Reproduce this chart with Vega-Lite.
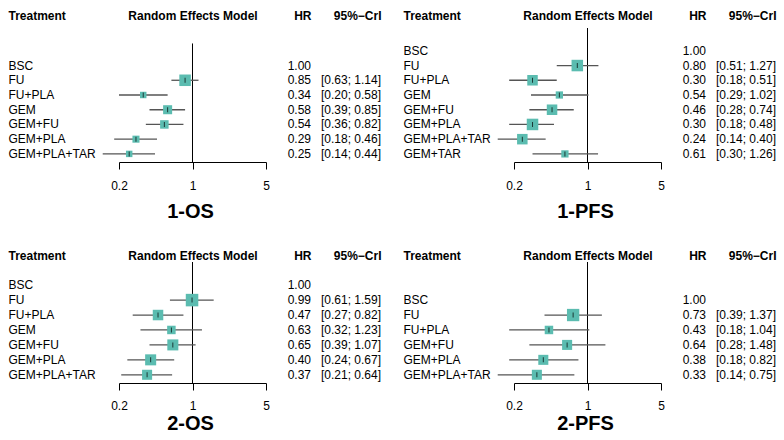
{
  "$schema": "https://vega.github.io/schema/vega-lite/v6.json",
  "padding": {"left": 8, "top": 9, "right": 0, "bottom": 0},
  "background": "white",
  "datasets": {
    "os1": [
      {"t": "BSC", "hr": 1.00, "lo": null, "hi": null, "w": null, "ci": null},
      {"t": "FU", "hr": 0.85, "lo": 0.63, "hi": 1.14, "w": 0.83, "ci": "[0.63; 1.14]"},
      {"t": "FU+PLA", "hr": 0.34, "lo": 0.20, "hi": 0.58, "w": 0.26, "ci": "[0.20; 0.58]"},
      {"t": "GEM", "hr": 0.58, "lo": 0.39, "hi": 0.85, "w": 0.51, "ci": "[0.39; 0.85]"},
      {"t": "GEM+FU", "hr": 0.54, "lo": 0.36, "hi": 0.82, "w": 0.45, "ci": "[0.36; 0.82]"},
      {"t": "GEM+PLA", "hr": 0.29, "lo": 0.18, "hi": 0.46, "w": 0.31, "ci": "[0.18; 0.46]"},
      {"t": "GEM+PLA+TAR", "hr": 0.25, "lo": 0.14, "hi": 0.44, "w": 0.26, "ci": "[0.14; 0.44]"}
    ],
    "pfs1": [
      {"t": "BSC", "hr": 1.00, "lo": null, "hi": null, "w": null, "ci": null},
      {"t": "FU", "hr": 0.80, "lo": 0.51, "hi": 1.27, "w": 0.83, "ci": "[0.51; 1.27]"},
      {"t": "FU+PLA", "hr": 0.30, "lo": 0.18, "hi": 0.51, "w": 0.69, "ci": "[0.18; 0.51]"},
      {"t": "GEM", "hr": 0.54, "lo": 0.29, "hi": 1.02, "w": 0.33, "ci": "[0.29; 1.02]"},
      {"t": "GEM+FU", "hr": 0.46, "lo": 0.28, "hi": 0.74, "w": 0.69, "ci": "[0.28; 0.74]"},
      {"t": "GEM+PLA", "hr": 0.30, "lo": 0.18, "hi": 0.48, "w": 0.83, "ci": "[0.18; 0.48]"},
      {"t": "GEM+PLA+TAR", "hr": 0.24, "lo": 0.14, "hi": 0.40, "w": 0.69, "ci": "[0.14; 0.40]"},
      {"t": "GEM+TAR", "hr": 0.61, "lo": 0.30, "hi": 1.26, "w": 0.33, "ci": "[0.30; 1.26]"}
    ],
    "os2": [
      {"t": "BSC", "hr": 1.00, "lo": null, "hi": null, "w": null, "ci": null},
      {"t": "FU", "hr": 0.99, "lo": 0.61, "hi": 1.59, "w": 0.98, "ci": "[0.61; 1.59]"},
      {"t": "FU+PLA", "hr": 0.47, "lo": 0.27, "hi": 0.82, "w": 0.69, "ci": "[0.27; 0.82]"},
      {"t": "GEM", "hr": 0.63, "lo": 0.32, "hi": 1.23, "w": 0.45, "ci": "[0.32; 1.23]"},
      {"t": "GEM+FU", "hr": 0.65, "lo": 0.39, "hi": 1.07, "w": 0.76, "ci": "[0.39; 1.07]"},
      {"t": "GEM+PLA", "hr": 0.40, "lo": 0.24, "hi": 0.67, "w": 0.76, "ci": "[0.24; 0.67]"},
      {"t": "GEM+PLA+TAR", "hr": 0.37, "lo": 0.21, "hi": 0.64, "w": 0.63, "ci": "[0.21; 0.64]"}
    ],
    "pfs2": [
      {"t": "BSC", "hr": 1.00, "lo": null, "hi": null, "w": null, "ci": null},
      {"t": "FU", "hr": 0.73, "lo": 0.39, "hi": 1.37, "w": 0.95, "ci": "[0.39; 1.37]"},
      {"t": "FU+PLA", "hr": 0.43, "lo": 0.18, "hi": 1.04, "w": 0.45, "ci": "[0.18; 1.04]"},
      {"t": "GEM+FU", "hr": 0.64, "lo": 0.28, "hi": 1.48, "w": 0.63, "ci": "[0.28; 1.48]"},
      {"t": "GEM+PLA", "hr": 0.38, "lo": 0.18, "hi": 0.82, "w": 0.63, "ci": "[0.18; 0.82]"},
      {"t": "GEM+PLA+TAR", "hr": 0.33, "lo": 0.14, "hi": 0.75, "w": 0.63, "ci": "[0.14; 0.75]"}
    ]
  },
  "columns": 4,
  "bounds": "flush",
  "spacing": {"row": 100, "column": 45},
  "concat": [
    {
      "width": 147, "height": 134,
      "data": {"name": "os1"},
      "resolve": {"axis": {"x": "independent"}},
      "layer": [
        {
          "data": {"values": [{"hr": 1, "t": "  "}]},
          "mark": {"type": "rule", "color": "black", "strokeWidth": 1},
          "encoding": {
            "x": {"field": "hr", "type": "quantitative", "scale": {"type": "log", "domain": [0.2, 5], "nice": false},
              "axis": {"orient": "top", "title": "Random Effects Model", "labels": false, "ticks": false, "domain": false, "titleX": 73.5, "titleY": -9, "titleAlign": "center", "titleBaseline": "alphabetic", "titleFontSize": 12, "titleFontWeight": "bold", "titleColor": "black"}},
            "y": {"field": "t", "type": "nominal", "bandPosition": 0,
              "scale": {"type": "band", "domain": [" ", "  ", "BSC", "FU", "FU+PLA", "GEM", "GEM+FU", "GEM+PLA", "GEM+PLA+TAR"], "paddingInner": 0, "paddingOuter": 0.05},
              "axis": {"orient": "left", "title": "Treatment", "titleAngle": 0, "titleAlign": "left", "titleBaseline": "alphabetic", "titleX": -111, "titleY": -9, "titleFontSize": 12, "titleFontWeight": "bold", "titleColor": "black", "domain": false, "ticks": false, "tickSize": 0, "labelAlign": "left", "labelBaseline": "middle", "labelPadding": 111, "labelFontSize": 12, "labelColor": "black"}},
            "y2": {"value": "height"}
          }
        },
        {
          "transform": [{"filter": "isValid(datum.lo)"}],
          "mark": {"type": "rule", "color": "#555555", "strokeWidth": 1.3},
          "encoding": {
            "x": {"field": "lo", "type": "quantitative", "scale": {"type": "log", "domain": [0.2, 5], "nice": false},
              "axis": {"orient": "bottom", "values": [0.2, 1, 5], "format": "~g", "tickSize": 7, "tickColor": "black", "domainColor": "black", "labelPadding": 20, "labelBaseline": "alphabetic", "labelFontSize": 12, "labelColor": "black", "labelFlush": false, "labelOverlap": false, "title": "1-OS", "titleFontSize": 20, "titleFontWeight": "bold", "titleColor": "black", "titleBaseline": "alphabetic", "titleX": 71, "titleY": 55, "titleAlign": "center"}},
            "x2": {"field": "hi"},
            "y": {"field": "t", "type": "nominal",
              "scale": {"type": "band", "domain": [" ", "  ", "BSC", "FU", "FU+PLA", "GEM", "GEM+FU", "GEM+PLA", "GEM+PLA+TAR"], "paddingInner": 0, "paddingOuter": 0.05},
              "axis": {"orient": "left", "title": "Treatment", "titleAngle": 0, "titleAlign": "left", "titleBaseline": "alphabetic", "titleX": -111, "titleY": -9, "titleFontSize": 12, "titleFontWeight": "bold", "titleColor": "black", "domain": false, "ticks": false, "tickSize": 0, "labelAlign": "left", "labelBaseline": "middle", "labelPadding": 111, "labelFontSize": 12, "labelColor": "black"}}
          }
        },
        {
          "transform": [{"filter": "isValid(datum.lo)"}],
          "mark": {"type": "point", "shape": "square", "filled": true, "color": "#5BBCB0", "opacity": 1},
          "encoding": {
            "x": {"field": "hr", "type": "quantitative", "scale": {"type": "log", "domain": [0.2, 5], "nice": false}, "axis": null},
            "y": {"field": "t", "type": "nominal",
              "scale": {"type": "band", "domain": [" ", "  ", "BSC", "FU", "FU+PLA", "GEM", "GEM+FU", "GEM+PLA", "GEM+PLA+TAR"], "paddingInner": 0, "paddingOuter": 0.05},
              "axis": {"orient": "left", "title": "Treatment", "titleAngle": 0, "titleAlign": "left", "titleBaseline": "alphabetic", "titleX": -111, "titleY": -9, "titleFontSize": 12, "titleFontWeight": "bold", "titleColor": "black", "domain": false, "ticks": false, "tickSize": 0, "labelAlign": "left", "labelBaseline": "middle", "labelPadding": 111, "labelFontSize": 12, "labelColor": "black"}},
            "size": {"field": "w", "type": "quantitative", "scale": {"domain": [0, 1], "range": [0, 160]}, "legend": null}
          }
        },
        {
          "transform": [{"filter": "isValid(datum.lo)"}],
          "mark": {"type": "tick", "orient": "vertical", "color": "black", "size": 5, "thickness": 1},
          "encoding": {
            "x": {"field": "hr", "type": "quantitative", "scale": {"type": "log", "domain": [0.2, 5], "nice": false}, "axis": null},
            "y": {"field": "t", "type": "nominal",
              "scale": {"type": "band", "domain": [" ", "  ", "BSC", "FU", "FU+PLA", "GEM", "GEM+FU", "GEM+PLA", "GEM+PLA+TAR"], "paddingInner": 0, "paddingOuter": 0.05},
              "axis": {"orient": "left", "title": "Treatment", "titleAngle": 0, "titleAlign": "left", "titleBaseline": "alphabetic", "titleX": -111, "titleY": -9, "titleFontSize": 12, "titleFontWeight": "bold", "titleColor": "black", "domain": false, "ticks": false, "tickSize": 0, "labelAlign": "left", "labelBaseline": "middle", "labelPadding": 111, "labelFontSize": 12, "labelColor": "black"}}
          }
        }
      ]
    },
    {
      "width": 158, "height": 134,
      "data": {"name": "os1"},
      "layer": [
        {
          "mark": {"type": "text", "align": "right", "baseline": "middle", "fontSize": 12, "color": "black"},
          "encoding": {
            "x": {"datum": "HR", "type": "nominal", "scale": {"type": "point", "domain": ["HR", "95%−CrI"], "range": [0, 70], "padding": 0},
              "axis": {"orient": "top", "title": null, "domain": false, "ticks": false, "tickSize": 0, "labelPadding": 9, "labelBaseline": "alphabetic", "labelAlign": "right", "labelAngle": 0, "labelFontWeight": "bold", "labelFontSize": 12, "labelColor": "black"}},
            "y": {"field": "t", "type": "nominal", "scale": {"type": "band", "domain": [" ", "  ", "BSC", "FU", "FU+PLA", "GEM", "GEM+FU", "GEM+PLA", "GEM+PLA+TAR"], "paddingInner": 0, "paddingOuter": 0.05}, "axis": null},
            "text": {"field": "hr", "type": "quantitative", "format": ".2f"}
          }
        },
        {
          "transform": [{"filter": "isValid(datum.ci)"}],
          "mark": {"type": "text", "align": "right", "baseline": "middle", "fontSize": 12, "color": "black"},
          "encoding": {
            "x": {"datum": "95%−CrI", "type": "nominal", "scale": {"type": "point", "domain": ["HR", "95%−CrI"], "range": [0, 70], "padding": 0},
              "axis": {"orient": "top", "title": null, "domain": false, "ticks": false, "tickSize": 0, "labelPadding": 9, "labelBaseline": "alphabetic", "labelAlign": "right", "labelAngle": 0, "labelFontWeight": "bold", "labelFontSize": 12, "labelColor": "black"}},
            "y": {"field": "t", "type": "nominal", "scale": {"type": "band", "domain": [" ", "  ", "BSC", "FU", "FU+PLA", "GEM", "GEM+FU", "GEM+PLA", "GEM+PLA+TAR"], "paddingInner": 0, "paddingOuter": 0.05}, "axis": null},
            "text": {"field": "ci", "type": "nominal"}
          }
        }
      ]
    },
    {
      "width": 147, "height": 134,
      "data": {"name": "pfs1"},
      "resolve": {"axis": {"x": "independent"}},
      "layer": [
        {
          "data": {"values": [{"hr": 1}]},
          "mark": {"type": "rule", "color": "black", "strokeWidth": 1},
          "encoding": {
            "x": {"field": "hr", "type": "quantitative", "scale": {"type": "log", "domain": [0.2, 5], "nice": false},
              "axis": {"orient": "top", "title": "Random Effects Model", "labels": false, "ticks": false, "domain": false, "titleX": 73.5, "titleY": -9, "titleAlign": "center", "titleBaseline": "alphabetic", "titleFontSize": 12, "titleFontWeight": "bold", "titleColor": "black"}}
          }
        },
        {
          "transform": [{"filter": "isValid(datum.lo)"}],
          "mark": {"type": "rule", "color": "#555555", "strokeWidth": 1.3},
          "encoding": {
            "x": {"field": "lo", "type": "quantitative", "scale": {"type": "log", "domain": [0.2, 5], "nice": false},
              "axis": {"orient": "bottom", "values": [0.2, 1, 5], "format": "~g", "tickSize": 7, "tickColor": "black", "domainColor": "black", "labelPadding": 20, "labelBaseline": "alphabetic", "labelFontSize": 12, "labelColor": "black", "labelFlush": false, "labelOverlap": false, "title": "1-PFS", "titleFontSize": 20, "titleFontWeight": "bold", "titleColor": "black", "titleBaseline": "alphabetic", "titleX": 71, "titleY": 55, "titleAlign": "center"}},
            "x2": {"field": "hi"},
            "y": {"field": "t", "type": "nominal",
              "scale": {"type": "band", "domain": [" ", "BSC", "FU", "FU+PLA", "GEM", "GEM+FU", "GEM+PLA", "GEM+PLA+TAR", "GEM+TAR"], "paddingInner": 0, "paddingOuter": 0.05},
              "axis": {"orient": "left", "title": "Treatment", "titleAngle": 0, "titleAlign": "left", "titleBaseline": "alphabetic", "titleX": -111, "titleY": -9, "titleFontSize": 12, "titleFontWeight": "bold", "titleColor": "black", "domain": false, "ticks": false, "tickSize": 0, "labelAlign": "left", "labelBaseline": "middle", "labelPadding": 111, "labelFontSize": 12, "labelColor": "black"}}
          }
        },
        {
          "transform": [{"filter": "isValid(datum.lo)"}],
          "mark": {"type": "point", "shape": "square", "filled": true, "color": "#5BBCB0", "opacity": 1},
          "encoding": {
            "x": {"field": "hr", "type": "quantitative", "scale": {"type": "log", "domain": [0.2, 5], "nice": false}, "axis": null},
            "y": {"field": "t", "type": "nominal",
              "scale": {"type": "band", "domain": [" ", "BSC", "FU", "FU+PLA", "GEM", "GEM+FU", "GEM+PLA", "GEM+PLA+TAR", "GEM+TAR"], "paddingInner": 0, "paddingOuter": 0.05},
              "axis": {"orient": "left", "title": "Treatment", "titleAngle": 0, "titleAlign": "left", "titleBaseline": "alphabetic", "titleX": -111, "titleY": -9, "titleFontSize": 12, "titleFontWeight": "bold", "titleColor": "black", "domain": false, "ticks": false, "tickSize": 0, "labelAlign": "left", "labelBaseline": "middle", "labelPadding": 111, "labelFontSize": 12, "labelColor": "black"}},
            "size": {"field": "w", "type": "quantitative", "scale": {"domain": [0, 1], "range": [0, 160]}, "legend": null}
          }
        },
        {
          "transform": [{"filter": "isValid(datum.lo)"}],
          "mark": {"type": "tick", "orient": "vertical", "color": "black", "size": 5, "thickness": 1},
          "encoding": {
            "x": {"field": "hr", "type": "quantitative", "scale": {"type": "log", "domain": [0.2, 5], "nice": false}, "axis": null},
            "y": {"field": "t", "type": "nominal",
              "scale": {"type": "band", "domain": [" ", "BSC", "FU", "FU+PLA", "GEM", "GEM+FU", "GEM+PLA", "GEM+PLA+TAR", "GEM+TAR"], "paddingInner": 0, "paddingOuter": 0.05},
              "axis": {"orient": "left", "title": "Treatment", "titleAngle": 0, "titleAlign": "left", "titleBaseline": "alphabetic", "titleX": -111, "titleY": -9, "titleFontSize": 12, "titleFontWeight": "bold", "titleColor": "black", "domain": false, "ticks": false, "tickSize": 0, "labelAlign": "left", "labelBaseline": "middle", "labelPadding": 111, "labelFontSize": 12, "labelColor": "black"}}
          }
        }
      ]
    },
    {
      "width": 158, "height": 134,
      "data": {"name": "pfs1"},
      "layer": [
        {
          "mark": {"type": "text", "align": "right", "baseline": "middle", "fontSize": 12, "color": "black"},
          "encoding": {
            "x": {"datum": "HR", "type": "nominal", "scale": {"type": "point", "domain": ["HR", "95%−CrI"], "range": [0, 70], "padding": 0},
              "axis": {"orient": "top", "title": null, "domain": false, "ticks": false, "tickSize": 0, "labelPadding": 9, "labelBaseline": "alphabetic", "labelAlign": "right", "labelAngle": 0, "labelFontWeight": "bold", "labelFontSize": 12, "labelColor": "black"}},
            "y": {"field": "t", "type": "nominal", "scale": {"type": "band", "domain": [" ", "BSC", "FU", "FU+PLA", "GEM", "GEM+FU", "GEM+PLA", "GEM+PLA+TAR", "GEM+TAR"], "paddingInner": 0, "paddingOuter": 0.05}, "axis": null},
            "text": {"field": "hr", "type": "quantitative", "format": ".2f"}
          }
        },
        {
          "transform": [{"filter": "isValid(datum.ci)"}],
          "mark": {"type": "text", "align": "right", "baseline": "middle", "fontSize": 12, "color": "black"},
          "encoding": {
            "x": {"datum": "95%−CrI", "type": "nominal", "scale": {"type": "point", "domain": ["HR", "95%−CrI"], "range": [0, 70], "padding": 0},
              "axis": {"orient": "top", "title": null, "domain": false, "ticks": false, "tickSize": 0, "labelPadding": 9, "labelBaseline": "alphabetic", "labelAlign": "right", "labelAngle": 0, "labelFontWeight": "bold", "labelFontSize": 12, "labelColor": "black"}},
            "y": {"field": "t", "type": "nominal", "scale": {"type": "band", "domain": [" ", "BSC", "FU", "FU+PLA", "GEM", "GEM+FU", "GEM+PLA", "GEM+PLA+TAR", "GEM+TAR"], "paddingInner": 0, "paddingOuter": 0.05}, "axis": null},
            "text": {"field": "ci", "type": "nominal"}
          }
        }
      ]
    },
    {
      "width": 147, "height": 121,
      "data": {"name": "os2"},
      "resolve": {"axis": {"x": "independent"}},
      "layer": [
        {
          "data": {"values": [{"hr": 1}]},
          "mark": {"type": "rule", "color": "black", "strokeWidth": 1},
          "encoding": {
            "x": {"field": "hr", "type": "quantitative", "scale": {"type": "log", "domain": [0.2, 5], "nice": false},
              "axis": {"orient": "top", "title": "Random Effects Model", "labels": false, "ticks": false, "domain": false, "titleX": 73.5, "titleY": -2.5, "titleAlign": "center", "titleBaseline": "alphabetic", "titleFontSize": 12, "titleFontWeight": "bold", "titleColor": "black"}}
          }
        },
        {
          "transform": [{"filter": "isValid(datum.lo)"}],
          "mark": {"type": "rule", "color": "#555555", "strokeWidth": 1.3},
          "encoding": {
            "x": {"field": "lo", "type": "quantitative", "scale": {"type": "log", "domain": [0.2, 5], "nice": false},
              "axis": {"orient": "bottom", "values": [0.2, 1, 5], "format": "~g", "tickSize": 7, "tickColor": "black", "domainColor": "black", "labelPadding": 19.3, "labelBaseline": "alphabetic", "labelFontSize": 12, "labelColor": "black", "labelFlush": false, "labelOverlap": false, "title": "2-OS", "titleFontSize": 20, "titleFontWeight": "bold", "titleColor": "black", "titleBaseline": "alphabetic", "titleX": 71, "titleY": 46, "titleAlign": "center"}},
            "x2": {"field": "hi"},
            "y": {"field": "t", "type": "nominal",
              "scale": {"type": "band", "domain": [" ", "BSC", "FU", "FU+PLA", "GEM", "GEM+FU", "GEM+PLA", "GEM+PLA+TAR"], "paddingInner": 0, "paddingOuter": 0.05},
              "axis": {"orient": "left", "title": "Treatment", "titleAngle": 0, "titleAlign": "left", "titleBaseline": "alphabetic", "titleX": -111, "titleY": -2.5, "titleFontSize": 12, "titleFontWeight": "bold", "titleColor": "black", "domain": false, "ticks": false, "tickSize": 0, "labelAlign": "left", "labelBaseline": "middle", "labelPadding": 111, "labelFontSize": 12, "labelColor": "black"}}
          }
        },
        {
          "transform": [{"filter": "isValid(datum.lo)"}],
          "mark": {"type": "point", "shape": "square", "filled": true, "color": "#5BBCB0", "opacity": 1},
          "encoding": {
            "x": {"field": "hr", "type": "quantitative", "scale": {"type": "log", "domain": [0.2, 5], "nice": false}, "axis": null},
            "y": {"field": "t", "type": "nominal",
              "scale": {"type": "band", "domain": [" ", "BSC", "FU", "FU+PLA", "GEM", "GEM+FU", "GEM+PLA", "GEM+PLA+TAR"], "paddingInner": 0, "paddingOuter": 0.05},
              "axis": {"orient": "left", "title": "Treatment", "titleAngle": 0, "titleAlign": "left", "titleBaseline": "alphabetic", "titleX": -111, "titleY": -2.5, "titleFontSize": 12, "titleFontWeight": "bold", "titleColor": "black", "domain": false, "ticks": false, "tickSize": 0, "labelAlign": "left", "labelBaseline": "middle", "labelPadding": 111, "labelFontSize": 12, "labelColor": "black"}},
            "size": {"field": "w", "type": "quantitative", "scale": {"domain": [0, 1], "range": [0, 160]}, "legend": null}
          }
        },
        {
          "transform": [{"filter": "isValid(datum.lo)"}],
          "mark": {"type": "tick", "orient": "vertical", "color": "black", "size": 5, "thickness": 1},
          "encoding": {
            "x": {"field": "hr", "type": "quantitative", "scale": {"type": "log", "domain": [0.2, 5], "nice": false}, "axis": null},
            "y": {"field": "t", "type": "nominal",
              "scale": {"type": "band", "domain": [" ", "BSC", "FU", "FU+PLA", "GEM", "GEM+FU", "GEM+PLA", "GEM+PLA+TAR"], "paddingInner": 0, "paddingOuter": 0.05},
              "axis": {"orient": "left", "title": "Treatment", "titleAngle": 0, "titleAlign": "left", "titleBaseline": "alphabetic", "titleX": -111, "titleY": -2.5, "titleFontSize": 12, "titleFontWeight": "bold", "titleColor": "black", "domain": false, "ticks": false, "tickSize": 0, "labelAlign": "left", "labelBaseline": "middle", "labelPadding": 111, "labelFontSize": 12, "labelColor": "black"}}
          }
        }
      ]
    },
    {
      "width": 158, "height": 121,
      "data": {"name": "os2"},
      "layer": [
        {
          "mark": {"type": "text", "align": "right", "baseline": "middle", "fontSize": 12, "color": "black"},
          "encoding": {
            "x": {"datum": "HR", "type": "nominal", "scale": {"type": "point", "domain": ["HR", "95%−CrI"], "range": [0, 70], "padding": 0},
              "axis": {"orient": "top", "title": null, "domain": false, "ticks": false, "tickSize": 0, "labelPadding": 2.5, "labelBaseline": "alphabetic", "labelAlign": "right", "labelAngle": 0, "labelFontWeight": "bold", "labelFontSize": 12, "labelColor": "black"}},
            "y": {"field": "t", "type": "nominal", "scale": {"type": "band", "domain": [" ", "BSC", "FU", "FU+PLA", "GEM", "GEM+FU", "GEM+PLA", "GEM+PLA+TAR"], "paddingInner": 0, "paddingOuter": 0.05}, "axis": null},
            "text": {"field": "hr", "type": "quantitative", "format": ".2f"}
          }
        },
        {
          "transform": [{"filter": "isValid(datum.ci)"}],
          "mark": {"type": "text", "align": "right", "baseline": "middle", "fontSize": 12, "color": "black"},
          "encoding": {
            "x": {"datum": "95%−CrI", "type": "nominal", "scale": {"type": "point", "domain": ["HR", "95%−CrI"], "range": [0, 70], "padding": 0},
              "axis": {"orient": "top", "title": null, "domain": false, "ticks": false, "tickSize": 0, "labelPadding": 2.5, "labelBaseline": "alphabetic", "labelAlign": "right", "labelAngle": 0, "labelFontWeight": "bold", "labelFontSize": 12, "labelColor": "black"}},
            "y": {"field": "t", "type": "nominal", "scale": {"type": "band", "domain": [" ", "BSC", "FU", "FU+PLA", "GEM", "GEM+FU", "GEM+PLA", "GEM+PLA+TAR"], "paddingInner": 0, "paddingOuter": 0.05}, "axis": null},
            "text": {"field": "ci", "type": "nominal"}
          }
        }
      ]
    },
    {
      "width": 147, "height": 121,
      "data": {"name": "pfs2"},
      "resolve": {"axis": {"x": "independent"}},
      "layer": [
        {
          "data": {"values": [{"hr": 1}]},
          "mark": {"type": "rule", "color": "black", "strokeWidth": 1},
          "encoding": {
            "x": {"field": "hr", "type": "quantitative", "scale": {"type": "log", "domain": [0.2, 5], "nice": false},
              "axis": {"orient": "top", "title": "Random Effects Model", "labels": false, "ticks": false, "domain": false, "titleX": 73.5, "titleY": -2.5, "titleAlign": "center", "titleBaseline": "alphabetic", "titleFontSize": 12, "titleFontWeight": "bold", "titleColor": "black"}}
          }
        },
        {
          "transform": [{"filter": "isValid(datum.lo)"}],
          "mark": {"type": "rule", "color": "#555555", "strokeWidth": 1.3},
          "encoding": {
            "x": {"field": "lo", "type": "quantitative", "scale": {"type": "log", "domain": [0.2, 5], "nice": false},
              "axis": {"orient": "bottom", "values": [0.2, 1, 5], "format": "~g", "tickSize": 7, "tickColor": "black", "domainColor": "black", "labelPadding": 19.3, "labelBaseline": "alphabetic", "labelFontSize": 12, "labelColor": "black", "labelFlush": false, "labelOverlap": false, "title": "2-PFS", "titleFontSize": 20, "titleFontWeight": "bold", "titleColor": "black", "titleBaseline": "alphabetic", "titleX": 71, "titleY": 46, "titleAlign": "center"}},
            "x2": {"field": "hi"},
            "y": {"field": "t", "type": "nominal",
              "scale": {"type": "band", "domain": [" ", "  ", "BSC", "FU", "FU+PLA", "GEM+FU", "GEM+PLA", "GEM+PLA+TAR"], "paddingInner": 0, "paddingOuter": 0.05},
              "axis": {"orient": "left", "title": "Treatment", "titleAngle": 0, "titleAlign": "left", "titleBaseline": "alphabetic", "titleX": -111, "titleY": -2.5, "titleFontSize": 12, "titleFontWeight": "bold", "titleColor": "black", "domain": false, "ticks": false, "tickSize": 0, "labelAlign": "left", "labelBaseline": "middle", "labelPadding": 111, "labelFontSize": 12, "labelColor": "black"}}
          }
        },
        {
          "transform": [{"filter": "isValid(datum.lo)"}],
          "mark": {"type": "point", "shape": "square", "filled": true, "color": "#5BBCB0", "opacity": 1},
          "encoding": {
            "x": {"field": "hr", "type": "quantitative", "scale": {"type": "log", "domain": [0.2, 5], "nice": false}, "axis": null},
            "y": {"field": "t", "type": "nominal",
              "scale": {"type": "band", "domain": [" ", "  ", "BSC", "FU", "FU+PLA", "GEM+FU", "GEM+PLA", "GEM+PLA+TAR"], "paddingInner": 0, "paddingOuter": 0.05},
              "axis": {"orient": "left", "title": "Treatment", "titleAngle": 0, "titleAlign": "left", "titleBaseline": "alphabetic", "titleX": -111, "titleY": -2.5, "titleFontSize": 12, "titleFontWeight": "bold", "titleColor": "black", "domain": false, "ticks": false, "tickSize": 0, "labelAlign": "left", "labelBaseline": "middle", "labelPadding": 111, "labelFontSize": 12, "labelColor": "black"}},
            "size": {"field": "w", "type": "quantitative", "scale": {"domain": [0, 1], "range": [0, 160]}, "legend": null}
          }
        },
        {
          "transform": [{"filter": "isValid(datum.lo)"}],
          "mark": {"type": "tick", "orient": "vertical", "color": "black", "size": 5, "thickness": 1},
          "encoding": {
            "x": {"field": "hr", "type": "quantitative", "scale": {"type": "log", "domain": [0.2, 5], "nice": false}, "axis": null},
            "y": {"field": "t", "type": "nominal",
              "scale": {"type": "band", "domain": [" ", "  ", "BSC", "FU", "FU+PLA", "GEM+FU", "GEM+PLA", "GEM+PLA+TAR"], "paddingInner": 0, "paddingOuter": 0.05},
              "axis": {"orient": "left", "title": "Treatment", "titleAngle": 0, "titleAlign": "left", "titleBaseline": "alphabetic", "titleX": -111, "titleY": -2.5, "titleFontSize": 12, "titleFontWeight": "bold", "titleColor": "black", "domain": false, "ticks": false, "tickSize": 0, "labelAlign": "left", "labelBaseline": "middle", "labelPadding": 111, "labelFontSize": 12, "labelColor": "black"}}
          }
        }
      ]
    },
    {
      "width": 158, "height": 121,
      "data": {"name": "pfs2"},
      "layer": [
        {
          "mark": {"type": "text", "align": "right", "baseline": "middle", "fontSize": 12, "color": "black"},
          "encoding": {
            "x": {"datum": "HR", "type": "nominal", "scale": {"type": "point", "domain": ["HR", "95%−CrI"], "range": [0, 70], "padding": 0},
              "axis": {"orient": "top", "title": null, "domain": false, "ticks": false, "tickSize": 0, "labelPadding": 2.5, "labelBaseline": "alphabetic", "labelAlign": "right", "labelAngle": 0, "labelFontWeight": "bold", "labelFontSize": 12, "labelColor": "black"}},
            "y": {"field": "t", "type": "nominal", "scale": {"type": "band", "domain": [" ", "  ", "BSC", "FU", "FU+PLA", "GEM+FU", "GEM+PLA", "GEM+PLA+TAR"], "paddingInner": 0, "paddingOuter": 0.05}, "axis": null},
            "text": {"field": "hr", "type": "quantitative", "format": ".2f"}
          }
        },
        {
          "transform": [{"filter": "isValid(datum.ci)"}],
          "mark": {"type": "text", "align": "right", "baseline": "middle", "fontSize": 12, "color": "black"},
          "encoding": {
            "x": {"datum": "95%−CrI", "type": "nominal", "scale": {"type": "point", "domain": ["HR", "95%−CrI"], "range": [0, 70], "padding": 0},
              "axis": {"orient": "top", "title": null, "domain": false, "ticks": false, "tickSize": 0, "labelPadding": 2.5, "labelBaseline": "alphabetic", "labelAlign": "right", "labelAngle": 0, "labelFontWeight": "bold", "labelFontSize": 12, "labelColor": "black"}},
            "y": {"field": "t", "type": "nominal", "scale": {"type": "band", "domain": [" ", "  ", "BSC", "FU", "FU+PLA", "GEM+FU", "GEM+PLA", "GEM+PLA+TAR"], "paddingInner": 0, "paddingOuter": 0.05}, "axis": null},
            "text": {"field": "ci", "type": "nominal"}
          }
        }
      ]
    }
  ],
  "config": {
    "font": "Liberation Sans",
    "view": {"stroke": null},
    "axis": {"grid": false, "labelColor": "black", "titleColor": "black", "domainColor": "black", "tickColor": "black"},
    "text": {"font": "Liberation Sans"}
  }
}
